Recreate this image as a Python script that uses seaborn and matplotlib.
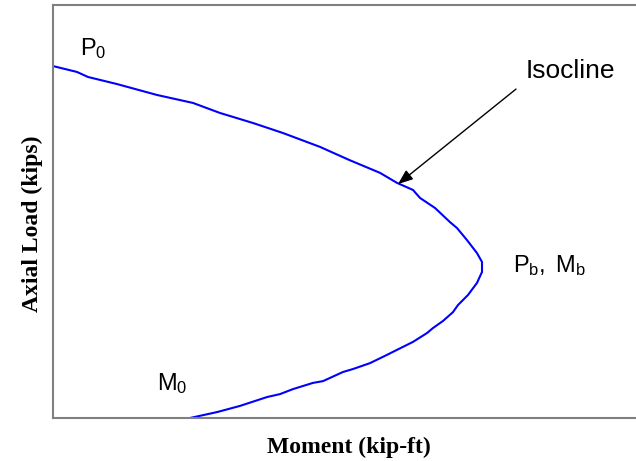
import numpy as np
import pandas as pd
import seaborn as sns
import matplotlib.pyplot as plt

# interaction curve
moment = [0, 24, 35, 64, 104, 140, 167, 200, 230, 267, 296, 327, 344, 360, 367, 382,
          397, 404, 414, 424, 429, 429, 424, 415, 405, 400, 390, 380, 374, 360, 344,
          334, 317, 300, 290, 270, 260, 240, 227, 214, 187, 164, 137]
axial = [1193, 1173, 1156, 1132, 1095, 1068, 1034, 1000, 966, 919, 875, 831, 797, 773, 746, 712,
         664, 644, 603, 559, 529, 495, 458, 417, 383, 359, 329, 305, 288, 258, 231,
         214, 186, 166, 156, 125, 119, 98, 81, 71, 41, 20, 0]

df = pd.DataFrame({'Moment': moment, 'Axial': axial})

sns.set_style('white')
plt.rcParams['font.family'] = ['Liberation Sans', 'DejaVu Sans']
plt.rcParams['text.color'] = 'black'
plt.rcParams['mathtext.fontset'] = 'custom'
plt.rcParams['mathtext.rm'] = 'Liberation Sans'
plt.rcParams['mathtext.it'] = 'Liberation Sans'

fig = plt.figure(figsize=(6.36, 4.61), dpi=100)
ax = fig.add_axes([53 / 636, 43 / 461, 590 / 636, 413 / 461])

sns.lineplot(data=df, x='Moment', y='Axial', sort=False, estimator=None,
             color='#0000ff', linewidth=1.5, ax=ax)

ax.set_xlim(0, 590)
ax.set_ylim(0, 1400)
ax.set_xticks([])
ax.set_yticks([])
ax.spines['right'].set_visible(False)
for s in ['left', 'top', 'bottom']:
    ax.spines[s].set_color('#808080')
    ax.spines[s].set_linewidth(1.5)

ax.set_xlabel('')
ax.set_ylabel('')
fig.text(349 / 636, 1 - 447 / 461, 'Moment (kip-ft)', ha='center', va='center',
         family='Liberation Serif', weight='bold', fontsize=17, color='black')
fig.text(32 / 636, 1 - 224 / 461, 'Axial Load (kips)', ha='center', va='center',
         rotation=90, family='Liberation Serif', weight='bold', fontsize=17, color='black')

lab = dict(fontsize=17, color='black', va='baseline')
ax.text(27, 1231, r'$\mathrm{P_0}$', **lab)
ax.text(460, 495, r'$\mathrm{P_b,\ M_b}$', **lab)
ax.text(104, 95, r'$\mathrm{M_0}$', **lab)
ax.text(473, 1153, 'Isocline', fontsize=19, va='baseline', color='black')
ax.annotate('', xy=(345, 793), xytext=(463, 1115),
            arrowprops=dict(arrowstyle='-|>,head_length=0.9,head_width=0.35',
                            color='black', lw=1, mutation_scale=10,
                            shrinkA=0, shrinkB=0))

fig.savefig('out.png', dpi=100)
